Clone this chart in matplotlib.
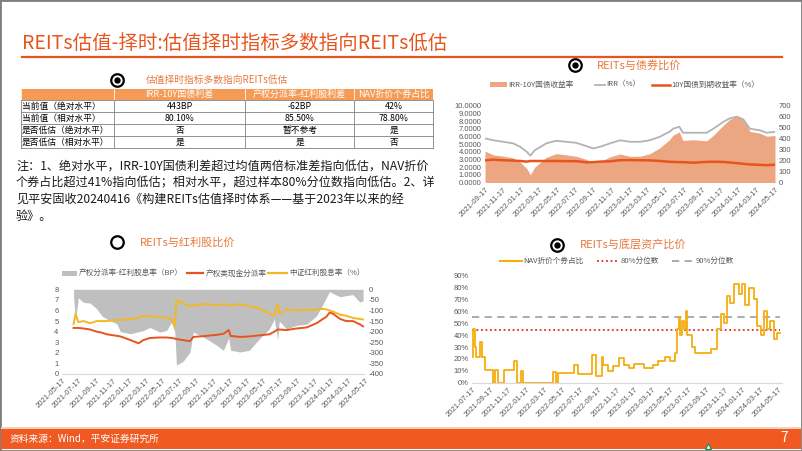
import matplotlib
matplotlib.use("Agg")
import matplotlib.pyplot as plt
import pandas as pd
from matplotlib.lines import Line2D
from matplotlib.patches import Rectangle
from matplotlib.ticker import FuncFormatter

plt.rcParams['font.family'] = ['Noto Sans CJK SC', 'DejaVu Sans']
plt.rcParams['axes.unicode_minus'] = False

W, H = 802, 451

ORANGE = '#E8541E'
TITLE_ORANGE = '#E9773A'
TICK_GRAY = '#595959'
AXIS_GRAY = '#D9D9D9'
SALMON = '#ECA682'
IRR_GRAY = '#B3B3B3'
DIV_GRAY = '#BFBFBF'
YELLOW = '#F2B825'
NAV_COLOR = '#F4AE10'

# ---- table ----
table_cols = ["IRR-10Y国债利差", "产权分派率-红利股利差", "NAV折价个券占比"]
table_rows = ["当前值（绝对水平）", "当前值（相对水平）", "是否低估（绝对水平）", "是否低估（相对水平）"]
table_vals = [["443BP", "-62BP", "42%"],
              ["80.10%", "85.50%", "78.80%"],
              ["否", "暂不参考", "是"],
              ["是", "是", "否"]]

note_lines = [
    "注：1、绝对水平，IRR-10Y国债利差超过均值两倍标准差指向低估，NAV折价",
    "个券占比超过41%指向低估；相对水平，超过样本80%分位数指向低估。2、详",
    "见平安固收20240416《构建REITs估值择时体系——基于2023年以来的经",
    "验》。",
]

# ---- REITs vs bonds ----
bond_dates = ["2021-09-17", "2021-10-15", "2021-11-17", "2021-12-20", "2022-01-13", "2022-02-04",
              "2022-02-16", "2022-03-03", "2022-03-19", "2022-04-11", "2022-05-14", "2022-06-17",
              "2022-07-20", "2022-08-23", "2022-09-15", "2022-10-08", "2022-11-11", "2022-12-14",
              "2023-01-17", "2023-02-20", "2023-03-24", "2023-04-26", "2023-05-29", "2023-06-10",
              "2023-07-01", "2023-07-13", "2023-08-17", "2023-10-01", "2023-10-23", "2023-11-26",
              "2023-12-17", "2024-01-10", "2024-02-01", "2024-02-23", "2024-03-27", "2024-04-19",
              "2024-05-17"]
irr = [5.74, 5.5, 5.3, 5.1, 4.65, 4.0, 3.5, 4.2, 4.57, 5.1, 5.43, 5.3, 5.17, 4.74, 4.43, 4.65,
       5.1, 5.5, 5.3, 5.3, 5.5, 5.95, 6.6, 7.0, 7.26, 6.48, 6.48, 6.48, 7.0, 7.9, 8.35, 8.57,
       8.2, 7.0, 6.8, 6.48, 6.6]
cgb_10y = [2.88, 2.98, 2.90, 2.85, 2.80, 2.72, 2.80, 2.80, 2.80, 2.80, 2.80, 2.78, 2.78, 2.63,
           2.65, 2.72, 2.76, 2.90, 2.92, 2.90, 2.88, 2.80, 2.70, 2.68, 2.65, 2.65, 2.58, 2.68,
           2.70, 2.68, 2.60, 2.52, 2.43, 2.35, 2.30, 2.26, 2.32]
irr_spread_bp = [286, 252, 240, 225, 185, 128, 70, 140, 177, 230, 263, 252, 239, 211, 178, 193,
                 234, 260, 238, 240, 262, 315, 390, 432, 461, 383, 390, 380, 430, 522, 575, 605,
                 577, 465, 450, 422, 428]
bond_ticks = ["2021-09-17", "2021-11-17", "2022-01-17", "2022-03-17", "2022-05-17", "2022-07-17",
              "2022-09-17", "2022-11-17", "2023-01-17", "2023-03-17", "2023-05-17", "2023-07-17",
              "2023-09-17", "2023-11-17", "2024-01-17", "2024-03-17", "2024-05-17"]

# ---- REITs vs dividend stocks ----
div_dates = ["2021-06-28", "2021-07-05", "2021-07-15", "2021-08-03", "2021-08-27", "2021-09-20",
             "2021-10-08", "2021-10-26", "2021-12-02", "2021-12-14", "2022-01-20", "2022-02-18",
             "2022-03-07", "2022-03-31", "2022-05-06", "2022-05-30", "2022-06-17", "2022-06-29",
             "2022-07-05", "2022-07-29", "2022-08-23", "2022-09-04", "2022-10-22", "2022-11-28",
             "2022-12-22", "2023-01-10", "2023-01-17", "2023-02-20", "2023-03-26", "2023-05-01",
             "2023-06-06", "2023-06-24", "2023-07-06", "2023-07-12", "2023-08-07", "2023-09-13",
             "2023-10-19", "2023-11-24", "2023-12-17", "2023-12-29", "2024-01-10", "2024-01-22",
             "2024-02-17", "2024-03-10", "2024-04-03", "2024-04-28", "2024-05-10"]
csi_div_yield = [4.7, 5.7, 4.9, 5.0, 4.8, 5.0, 5.0, 5.0, 5.1, 5.1, 5.2, 5.3, 5.5, 5.45, 5.4, 5.3,
                 5.2, 4.5, 7.0, 6.7, 6.4, 6.5, 6.6, 6.5, 6.6, 6.5, 6.5, 6.6, 6.4, 6.2, 5.7, 5.5,
                 6.6, 5.7, 6.1, 6.0, 6.05, 6.1, 6.15, 6.1, 6.0, 5.9, 5.6, 5.5, 5.3, 5.2, 5.15]
reits_dist_rate = [4.35, 4.35, 4.35, 4.3, 4.2, 4.0, 3.9, 3.75, 3.6, 3.55, 3.2, 2.9, 3.2, 3.4,
                   3.45, 3.45, 3.4, 3.35, 3.3, 3.2, 3.1, 3.5, 3.6, 3.7, 3.8, 4.15, 3.6, 3.5,
                   3.55, 3.65, 3.75, 4.0, 4.2, 4.2, 4.15, 4.3, 4.4, 4.8, 5.2, 5.4, 5.8, 5.7,
                   5.2, 5.0, 5.0, 4.7, 4.5]
div_gap_bp = [-40, -150, -40, -62, -65, -93, -125, -140, -164, -200, -210, -200, -195, -180,
              -202, -195, -156, -202, -358, -340, -296, -202, -234, -265, -288, -230, -288, -296,
              -288, -234, -187, -140, -240, -150, -187, -170, -165, -125, -70, -40, -10, -20,
              -35, -30, -25, -60, -55]
div_ticks = ["2021-05-17", "2021-07-17", "2021-09-17", "2021-11-17", "2022-01-17", "2022-03-17",
             "2022-05-17", "2022-07-17", "2022-09-17", "2022-11-17", "2023-01-17", "2023-03-17",
             "2023-05-17", "2023-07-17", "2023-09-17", "2023-11-17", "2024-01-17", "2024-03-17",
             "2024-05-17"]

# ---- REITs vs underlying assets ----
nav_dates = ["2021-07-18", "2021-07-21", "2021-07-27", "2021-08-01", "2021-08-13", "2021-08-19",
             "2021-08-30", "2021-09-26", "2021-10-04", "2021-10-12", "2021-11-01", "2021-12-05",
             "2021-12-16", "2021-12-30", "2022-01-04", "2022-04-17", "2022-04-28", "2022-05-02",
             "2022-06-25", "2022-07-11", "2022-08-26", "2022-09-07", "2022-09-28", "2022-10-03",
             "2022-10-20", "2022-11-06", "2022-11-24", "2022-12-11", "2022-12-28", "2023-01-14",
             "2023-02-17", "2023-03-20", "2023-04-06", "2023-04-29", "2023-05-17", "2023-06-03",
             "2023-06-08", "2023-06-14", "2023-06-20", "2023-06-26", "2023-07-02", "2023-07-08",
             "2023-07-13", "2023-07-29", "2023-08-09", "2023-09-30", "2023-10-22", "2023-11-03",
             "2023-11-14", "2023-11-25", "2023-12-06", "2023-12-17", "2024-01-03", "2024-01-13",
             "2024-01-24", "2024-02-05", "2024-02-23", "2024-03-06", "2024-03-17", "2024-03-28",
             "2024-04-08", "2024-04-19", "2024-04-30", "2024-05-10", "2024-05-21"]
nav_discount_pct = [22, 45, 30, 22, 34, 22, 11, 0, 11, 0, 11, 18, 0, 10, 0, 9, 0, 8, 15, 7, 23,
                    6, 22, 15, 10, 14, 21, 15, 12, 16, 12, 15, 18, 22, 18, 25, 45, 55, 40, 52,
                    45, 60, 40, 30, 25, 28, 45, 58, 50, 73, 67, 83, 75, 83, 65, 80, 70, 48, 40,
                    60, 45, 52, 37, 42, 42]
nav_p80 = 44
nav_p90 = 55.5
nav_ticks = ["2021-07-17", "2021-09-17", "2021-11-17", "2022-01-17", "2022-03-17", "2022-05-17",
             "2022-07-17", "2022-09-17", "2022-11-17", "2023-01-17", "2023-03-17", "2023-05-17",
             "2023-07-17", "2023-09-17", "2023-11-17", "2024-01-17", "2024-03-17", "2024-05-17"]

fig = plt.figure(figsize=(W / 100, H / 100), dpi=100)


def fx(x):
    return x / W


def fy(y):
    return 1 - y / H


def px_axes(left, top, right, bottom):
    return fig.add_axes([fx(left), fy(bottom), (right - left) / W, (bottom - top) / H])


def fig_seg(x0, y0, x1, y1, **kw):
    fig.add_artist(Line2D([fx(x0), fx(x1)], [fy(y0), fy(y1)], transform=fig.transFigure, **kw))


def fig_rect(x0, y0, x1, y1, **kw):
    fig.add_artist(Rectangle((fx(x0), fy(y1)), (x1 - x0) / W, (y1 - y0) / H,
                             transform=fig.transFigure, **kw))


def fig_text(x, y, s, **kw):
    fig.text(fx(x), fy(y), s, **kw)


def title_icon(x, y, dot=True):
    fig.add_artist(Line2D([fx(x)], [fy(y)], marker='o', ms=9, mfc='white', mec='black',
                          mew=1.6, transform=fig.transFigure))
    if dot:
        fig.add_artist(Line2D([fx(x)], [fy(y)], marker='o', ms=3.6, mfc='black', mec='black',
                              transform=fig.transFigure))


def style_axes(ax, ticks, start, end):
    for s in ax.spines.values():
        s.set_visible(False)
    ax.tick_params(length=0, labelsize=5.5, labelcolor=TICK_GRAY,
                   labelfontfamily='Liberation Sans', pad=2.5)
    ax.set_xlim(pd.to_datetime(start), pd.to_datetime(end))
    ax.set_xticks(pd.to_datetime(ticks))
    ax.set_xticklabels(ticks, rotation=45, ha='right', rotation_mode='anchor')


# slide frame, title and footer
fig_rect(0, 0, W, H, facecolor='none', edgecolor='#7F7F7F', lw=2)
fig_text(22, 43, "REITs估值-择时:估值择时指标多数指向REITs低估", fontsize=14, color=ORANGE, va='center')
fig_seg(22, 56.5, 782, 56.5, color=ORANGE, lw=1.6)

fig_rect(1, 427, W - 1, 428.5, facecolor='#F3D2B3', edgecolor='none')
fig_rect(1, 428.5, W - 1, 449, facecolor='#F05A22', edgecolor='none')
fig_text(10, 439, "资料来源：Wind，平安证券研究所", fontsize=7, color='white', va='center')
fig_text(784, 438, "7", fontsize=10, color='white', va='center', ha='center')
fig.add_artist(Line2D([fx(708)], [fy(446)], marker='^', ms=5, mfc='white', mec='#2E8B57',
                      mew=1, transform=fig.transFigure))

# table
title_icon(117.3, 80)
fig_text(146, 80, "估值择时指标多数指向REITs低估", fontsize=7, color=TITLE_ORANGE, va='center')
col_x = [20.7, 114.3, 245, 354.3, 433.3]
row_y = [89, 100, 112, 124, 136, 148]
fig_rect(col_x[0], row_y[0], col_x[-1], row_y[1], facecolor='#F59B55', edgecolor='none')
for y in row_y[1:]:
    fig_seg(col_x[0], y, col_x[-1], y, color='#808080', lw=0.6)
for x in col_x:
    fig_seg(x, row_y[0], x, row_y[1], color='white', lw=0.6)
    fig_seg(x, row_y[1], x, row_y[-1], color='#808080', lw=0.6)
for j, name in enumerate(table_cols):
    fig_text((col_x[j + 1] + col_x[j + 2]) / 2, (row_y[0] + row_y[1]) / 2, name,
             fontsize=6.5, color='white', ha='center', va='center')
for i, name in enumerate(table_rows):
    yc = (row_y[i + 1] + row_y[i + 2]) / 2
    fig_text(col_x[0] + 1, yc, name, fontsize=6.3, color='black', va='center')
    for j, val in enumerate(table_vals[i]):
        fig_text((col_x[j + 1] + col_x[j + 2]) / 2, yc, val, fontsize=6.3, color='black',
                 ha='center', va='center')

for k, line in enumerate(note_lines):
    fig_text(16, 166 + k * 16.7, line, fontsize=8.7, color='#1A1A1A', va='center')

# REITs vs bonds
title_icon(575, 65)
fig_text(597, 65, "REITs与债券比价", fontsize=8, color=TITLE_ORANGE, va='center')
fig_rect(490, 82, 507, 87, facecolor=SALMON, edgecolor='none')
fig_text(508, 84.5, "IRR-10Y国债收益率", fontsize=5.5, color=TICK_GRAY, va='center')
fig_seg(595, 84.5, 605, 84.5, color=IRR_GRAY, lw=1.3)
fig_text(606, 84.5, "IRR（%）", fontsize=5.5, color=TICK_GRAY, va='center')
fig_seg(652, 84.5, 670, 84.5, color=ORANGE, lw=1.8)
fig_text(671, 84.5, "10Y国债到期收益率（%）", fontsize=5.5, color=TICK_GRAY, va='center')

bd = pd.to_datetime(bond_dates)
ax = px_axes(485, 105.7, 775, 182.5)
ax2 = ax.twinx()
ax2.fill_between(bd, irr_spread_bp, 0, color=SALMON, lw=0)
ax.plot(bd, irr, color=IRR_GRAY, lw=1.3)
ax.plot(bd, cgb_10y, color=ORANGE, lw=1.8)
ax.set_zorder(ax2.get_zorder() + 1)
ax.patch.set_visible(False)
style_axes(ax, bond_ticks, bond_ticks[0], bond_ticks[-1])
style_axes(ax2, bond_ticks, bond_ticks[0], bond_ticks[-1])
ax.set_ylim(0, 10)
ax.set_yticks(range(0, 11))
ax.yaxis.set_major_formatter(FuncFormatter(lambda v, p: f"{v:.4f}"))
ax2.set_ylim(0, 700)
ax2.set_yticks(range(0, 701, 100))

# REITs vs dividend stocks
title_icon(117.3, 242.3, dot=False)
fig_text(140, 242.3, "REITs与红利股比价", fontsize=8, color=TITLE_ORANGE, va='center')
fig_rect(62, 270.8, 77, 275.8, facecolor=DIV_GRAY, edgecolor='none')
fig_text(79, 273.3, "产权分派率-红利股息率（BP）", fontsize=5.5, color=TICK_GRAY, va='center')
fig_seg(187, 273.3, 203, 273.3, color=ORANGE, lw=1.6)
fig_text(206, 273.3, "产权类现金分派率", fontsize=5.5, color=TICK_GRAY, va='center')
fig_seg(268, 273.3, 287, 273.3, color=YELLOW, lw=1.6)
fig_text(289, 273.3, "中证红利股息率（%）", fontsize=5.5, color=TICK_GRAY, va='center')

dd = pd.to_datetime(div_dates)
ax = px_axes(62, 289.3, 365, 374)
ax2 = ax.twinx()
ax2.fill_between(dd, div_gap_bp, 0, color=DIV_GRAY, lw=0)
ax.plot(dd, csi_div_yield, color=YELLOW, lw=1.4)
ax.plot(dd, reits_dist_rate, color=ORANGE, lw=1.4)
ax.set_zorder(ax2.get_zorder() + 1)
ax.patch.set_visible(False)
style_axes(ax, div_ticks, div_ticks[0], div_ticks[-1])
style_axes(ax2, div_ticks, div_ticks[0], div_ticks[-1])
ax.spines['bottom'].set_visible(True)
ax.spines['bottom'].set_color(AXIS_GRAY)
ax.set_ylim(0, 8)
ax.set_yticks(range(0, 9))
ax2.set_ylim(-400, 0)
ax2.set_yticks(range(-400, 1, 50))

# REITs vs underlying assets
title_icon(557.3, 245)
fig_text(580, 245, "REITs与底层资产比价", fontsize=8, color=TITLE_ORANGE, va='center')
fig_seg(500, 261, 522, 261, color=NAV_COLOR, lw=1.5)
fig_text(523, 261, "NAV折价个券占比", fontsize=5.5, color=TICK_GRAY, va='center')
fig_seg(597, 261, 618, 261, color='#E0301E', lw=1.3, ls=(0, (1, 1.5)))
fig_text(621, 261, "80%分位数", fontsize=5.5, color=TICK_GRAY, va='center')
fig_seg(672, 261, 692, 261, color='#A6A6A6', lw=1.3, ls=(0, (4, 3)))
fig_text(696, 261, "90%分位数", fontsize=5.5, color=TICK_GRAY, va='center')

nd = pd.to_datetime(nav_dates)
ax = px_axes(472, 275.7, 782, 382.7)
ax.plot(nd, nav_discount_pct, color=NAV_COLOR, lw=1.3, drawstyle='steps-post', zorder=3)
ax.hlines(nav_p80, nd[0], nd[-1], color='#E0301E', lw=1.3, ls=(0, (1, 1.5)), zorder=2)
ax.hlines(nav_p90, nd[0], nd[-1], color='#A6A6A6', lw=1.3, ls=(0, (4, 3)), zorder=2)
style_axes(ax, nav_ticks, nav_ticks[0], "2024-05-28")
ax.spines['bottom'].set_visible(True)
ax.spines['bottom'].set_color(AXIS_GRAY)
ax.set_ylim(0, 90)
ax.set_yticks(range(0, 91, 10))
ax.yaxis.set_major_formatter(FuncFormatter(lambda v, p: f"{v:.0f}%"))

fig.savefig("out.png", dpi=100)
